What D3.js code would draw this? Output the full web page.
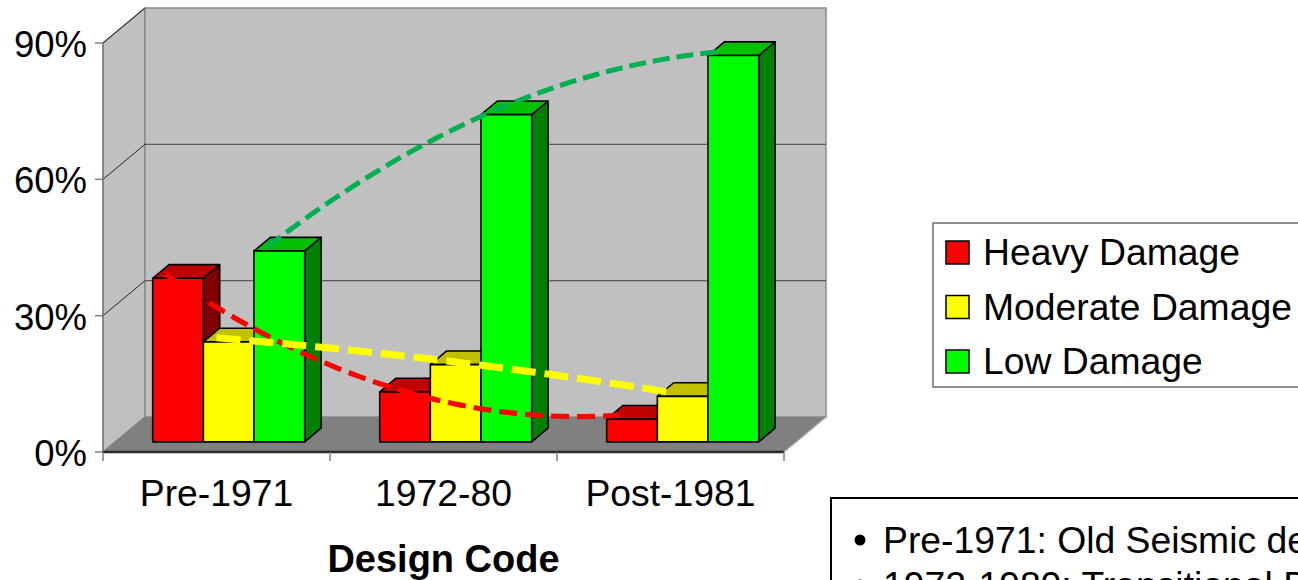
<!DOCTYPE html>
<html>
<head>
<meta charset="utf-8">
<script src="https://cdn.jsdelivr.net/npm/d3@7/dist/d3.min.js"></script>
<style>
  html, body { margin: 0; padding: 0; background: #fff; }
  svg { display: block; font-family: "Liberation Sans", Arial, sans-serif; }
</style>
</head>
<body>
<svg id="chart" width="1298" height="580"></svg>
<script>
// ---- data ----
const categories = ["Pre-1971", "1972-80", "Post-1981"];
const seriesNames = ["Heavy Damage", "Moderate Damage", "Low Damage"];
const heavy = [0.36, 0.11, 0.05];
const moderate = [0.22, 0.17, 0.10];
const low = [0.42, 0.72, 0.85];
const yTicks = [0, 0.3, 0.6, 0.9];
const notes = ["Pre-1971: Old Seismic design", "1972-1980: Transitional Design"];

const seriesValues = [heavy, moderate, low];
const frontColors = ["#FF0000", "#FFFF00", "#00FF00"];
const topColors = ["#C00000", "#C0C000", "#00C000"];
const sideColors = ["#800000", "#808000", "#008000"];
const trendColors = ["#FF0000", "#FFFF00", "#00B050"];
const trendWidths = [5.2, 7, 5];
const trendDash = ["18,8", "24,9", "17,7"];

const svg = d3.select("#chart");

// ---- scales ----
const x = d3.scaleBand().domain(categories).range([103, 784]).paddingInner(0).paddingOuter(0);
const xs = d3.scaleBand().domain(seriesNames).range([0, x.bandwidth()]).paddingInner(0).paddingOuter(0.74);
const y = d3.scaleLinear().domain([0, 0.9]).range([452, 43]);

// oblique depth projection: full depth offset
const DX = 42, DY = -35;
const depth = z => [DX * z, DY * z];
const [fdx, fdy] = depth(0.29);   // bar front face
const [bdx, bdy] = depth(0.68);   // bar back face

const x0 = x.range()[0], x1 = x.range()[1];
const yTop = y(0.9), yBase = y(0);

// ---- walls and floor ----
// left wall
svg.append("polygon")
  .attr("points", [[x0, yTop], [x0, yBase], [x0 + DX, yBase + DY], [x0 + DX, yTop + DY]].join(" "))
  .attr("fill", "#C0C0C0").attr("stroke", "#808080").attr("stroke-width", 1.5);
// back wall
svg.append("polygon")
  .attr("points", [[x0 + DX, yTop + DY], [x1 + DX, yTop + DY], [x1 + DX, yBase + DY], [x0 + DX, yBase + DY]].join(" "))
  .attr("fill", "#C0C0C0").attr("stroke", "#8a8a8a").attr("stroke-width", 1.5);
// gridlines on back wall
svg.selectAll("line.grid").data(yTicks.filter(t => t > 0 && t < 0.9)).join("line")
  .attr("class", "grid")
  .attr("x1", x0 + DX).attr("x2", x1 + DX)
  .attr("y1", d => y(d) + DY).attr("y2", d => y(d) + DY)
  .attr("stroke", "#5a5a5a").attr("stroke-width", 1.3);
// gridlines on left wall
svg.selectAll("line.lgrid").data(yTicks.filter(t => t > 0)).join("line")
  .attr("class", "lgrid")
  .attr("x1", x0).attr("x2", x0 + DX)
  .attr("y1", d => y(d)).attr("y2", d => y(d) + DY)
  .attr("stroke", "#222").attr("stroke-width", 1);
// floor
svg.append("polygon")
  .attr("points", [[x0, yBase], [x1, yBase], [x1 + DX, yBase + DY], [x0 + DX, yBase + DY]].join(" "))
  .attr("fill", "#808080");
svg.append("line")
  .attr("x1", x1).attr("y1", yBase).attr("x2", x1 + DX).attr("y2", yBase + DY)
  .attr("stroke", "#a8a8a8").attr("stroke-width", 1.5);

// ---- y axis ----
svg.append("line")
  .attr("x1", x0).attr("x2", x0).attr("y1", yTop).attr("y2", yBase)
  .attr("stroke", "#808080").attr("stroke-width", 1.5);
svg.selectAll("line.ytick").data(yTicks).join("line")
  .attr("class", "ytick")
  .attr("x1", x0 - 8).attr("x2", x0)
  .attr("y1", d => y(d)).attr("y2", d => y(d))
  .attr("stroke", "#808080").attr("stroke-width", 1.5);
svg.selectAll("text.ylab").data(yTicks).join("text")
  .attr("class", "ylab")
  .attr("x", 87).attr("y", d => y(d) + 14)
  .attr("text-anchor", "end").attr("font-size", 36.5).attr("fill", "#000")
  .text(d => d3.format(".0%")(d));

// ---- x axis ----
svg.append("line")
  .attr("x1", x0).attr("x2", x1).attr("y1", yBase).attr("y2", yBase)
  .attr("stroke", "#2a2a2a").attr("stroke-width", 2.5);
const xTickPos = categories.map(c => x(c)).concat([x1]);
svg.selectAll("line.xtick").data(xTickPos).join("line")
  .attr("class", "xtick")
  .attr("x1", d => d).attr("x2", d => d)
  .attr("y1", yBase).attr("y2", yBase + 9)
  .attr("stroke", "#808080").attr("stroke-width", 1.5);
svg.selectAll("text.xlab").data(categories).join("text")
  .attr("class", "xlab")
  .attr("x", d => x(d) + x.bandwidth() / 2).attr("y", 506)
  .attr("text-anchor", "middle").attr("font-size", 37.3).attr("fill", "#000")
  .text(d => d);
svg.append("text")
  .attr("x", x0 + (x1 - x0) / 2).attr("y", 572)
  .attr("text-anchor", "middle").attr("font-size", 38).attr("font-weight", "bold")
  .text("Design Code");

// ---- 3D columns ----
const bars = [];
categories.forEach((c, ci) => {
  seriesNames.forEach((s, si) => {
    bars.push({ c, ci, s, si, v: seriesValues[si][ci] });
  });
});
const barG = svg.append("g");
bars.forEach(b => {
  const w = xs.bandwidth();
  const xl = x(b.c) + xs(b.s) + fdx;
  const xr = xl + w;
  const yt = y(b.v) + fdy;
  const yb = y(0) + fdy;
  const ddx = bdx - fdx, ddy = bdy - fdy;
  const g = barG.append("g");
  g.append("polygon")
    .attr("points", [[xr, yt], [xr + ddx, yt + ddy], [xr + ddx, yb + ddy], [xr, yb]].join(" "))
    .attr("fill", sideColors[b.si]);
  g.append("polygon")
    .attr("points", [[xl, yt], [xl + ddx, yt + ddy], [xr + ddx, yt + ddy], [xr, yt]].join(" "))
    .attr("fill", topColors[b.si]);
  g.append("rect")
    .attr("x", xl).attr("y", yt).attr("width", w).attr("height", yb - yt)
    .attr("fill", frontColors[b.si]);
  g.selectAll("*").attr("stroke", "#000").attr("stroke-width", 1.6).attr("stroke-linejoin", "round");
});

// ---- polynomial (order 2) trend lines ----
function quadFit(vals) {
  // least squares fit of v = a + b*i + c*i^2
  let S = [0, 0, 0, 0, 0], T = [0, 0, 0];
  vals.forEach((v, i) => {
    for (let k = 0; k < 5; k++) S[k] += Math.pow(i, k);
    for (let k = 0; k < 3; k++) T[k] += v * Math.pow(i, k);
  });
  const M = [[S[0], S[1], S[2], T[0]], [S[1], S[2], S[3], T[1]], [S[2], S[3], S[4], T[2]]];
  for (let r = 0; r < 3; r++) {
    let p = r;
    for (let q = r + 1; q < 3; q++) if (Math.abs(M[q][r]) > Math.abs(M[p][r])) p = q;
    [M[r], M[p]] = [M[p], M[r]];
    for (let q = 0; q < 3; q++) {
      if (q === r) continue;
      const f = M[q][r] / M[r][r];
      for (let k = r; k < 4; k++) M[q][k] -= f * M[r][k];
    }
  }
  return [M[0][3] / M[0][0], M[1][3] / M[1][1], M[2][3] / M[2][2]];
}
const catIndex = d3.scaleLinear().domain([0, categories.length - 1]);
seriesNames.forEach((s, si) => {
  const [a, b, c] = quadFit(seriesValues[si]);
  const cx0 = x(categories[0]) + xs(s) + xs.bandwidth() / 2;
  const cx2 = x(categories[categories.length - 1]) + xs(s) + xs.bandwidth() / 2;
  catIndex.range([cx0, cx2]);
  const pts = d3.range(0, categories.length - 1 + 1e-9, 0.025).map(i => [catIndex(i), y(a + b * i + c * i * i) + fdy - 4]);
  svg.append("path")
    .attr("d", d3.line()(pts))
    .attr("fill", "none")
    .attr("stroke", trendColors[si])
    .attr("stroke-width", trendWidths[si])
    .attr("stroke-dasharray", trendDash[si]);
});

// ---- legend ----
const legend = svg.append("g");
legend.append("rect")
  .attr("x", 933).attr("y", 223).attr("width", 420).attr("height", 164)
  .attr("fill", "#fff").attr("stroke", "#6a6a6a").attr("stroke-width", 1.5);
const legendBaselines = [265, 319.5, 374];
seriesNames.forEach((s, si) => {
  legend.append("rect")
    .attr("x", 946).attr("y", legendBaselines[si] - 24).attr("width", 23).attr("height", 23)
    .attr("fill", frontColors[si]).attr("stroke", "#000").attr("stroke-width", 1.5);
  legend.append("text")
    .attr("x", 983).attr("y", legendBaselines[si])
    .attr("font-size", 37.3).text(s);
});

// ---- notes box ----
const notesG = svg.append("g");
notesG.append("rect")
  .attr("x", 831).attr("y", 498).attr("width", 600).attr("height", 200)
  .attr("fill", "#fff").attr("stroke", "#000").attr("stroke-width", 2);
notes.forEach((t, i) => {
  notesG.append("circle").attr("cx", 860).attr("cy", 540 + i * 45).attr("r", 5.5).attr("fill", "#000");
  notesG.append("text").attr("x", 883).attr("y", 553 + i * 45).attr("font-size", 37.3).text(t);
});
</script>
</body>
</html>
